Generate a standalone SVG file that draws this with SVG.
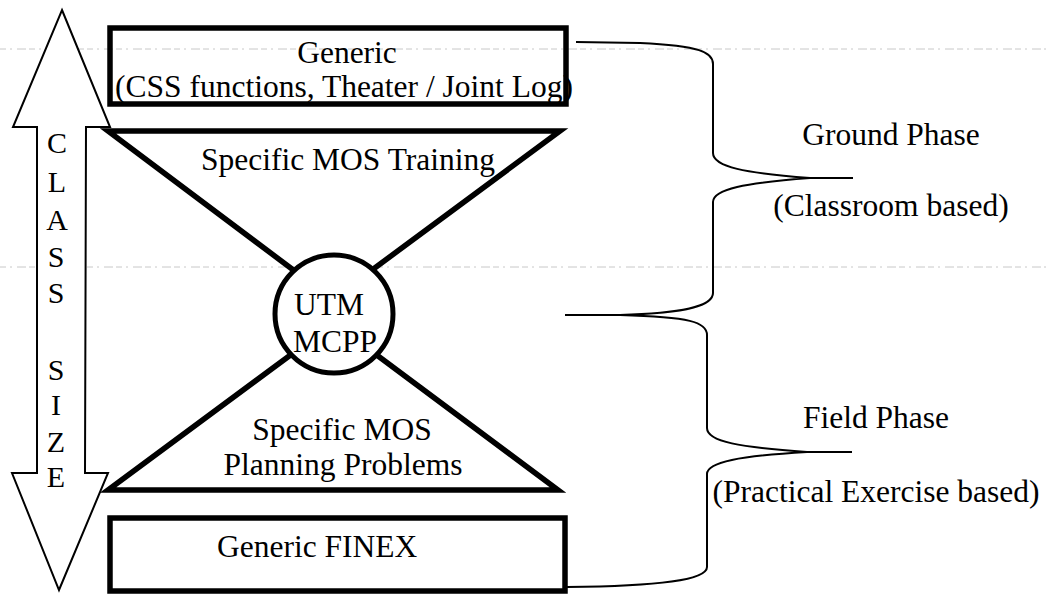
<svg xmlns="http://www.w3.org/2000/svg" width="1046" height="597" viewBox="0 0 1046 597">
  <style>
    .lbl { font-family: "Liberation Serif", "Times New Roman", serif; font-size: 31.5px; fill: #000; }
    .mid { text-anchor: middle; }
    .thick { fill: none; stroke: #000; stroke-width: 5.5; stroke-linejoin: miter; }
    .thin { fill: none; stroke: #000; stroke-width: 2; }
    .scan { stroke: #c8c8c8; stroke-width: 1; stroke-dasharray: 6 4 2 5 9 3; }
  </style>
  <rect width="1046" height="597" fill="#fff"/>

  <!-- faint horizontal scan lines -->
  <line class="scan" x1="0" y1="49" x2="1046" y2="49"/>
  <line class="scan" x1="0" y1="267" x2="1046" y2="267"/>

  <!-- vertical double arrow: CLASS SIZE -->
  <g id="class-size-arrow">
    <polygon points="62,10 110,127 86,127 85,473 108,473 59,590 12,473 37,473 37,127 13,127" fill="#fff" stroke="#000" stroke-width="2" stroke-linejoin="miter"/>
    <g class="lbl mid" style="font-size:30px">
      <text x="57" y="153">C</text>
      <text x="57" y="192">L</text>
      <text x="57" y="230">A</text>
      <text x="56" y="267">S</text>
      <text x="56" y="303">S</text>
      <text x="56" y="380">S</text>
      <text x="56" y="415">I</text>
      <text x="56" y="452">Z</text>
      <text x="56" y="487">E</text>
    </g>
  </g>

  <!-- top triangle: specific MOS training -->
  <g id="mos-training">
    <polyline class="thick" points="300,275 108,131 560,131 372,270"/>
    <text class="lbl mid" x="348" y="170">Specific MOS Training</text>
  </g>

  <!-- bottom triangle: specific MOS planning problems -->
  <g id="mos-planning">
    <polyline class="thick" points="300,348 108,490 558,490 370,350"/>
    <text class="lbl mid" x="342" y="440">Specific MOS</text>
    <text class="lbl mid" x="343" y="475">Planning Problems</text>
  </g>

  <!-- central circle -->
  <g id="utm-mcpp">
    <circle cx="334" cy="314" r="59" fill="#fff" stroke="#000" stroke-width="5"/>
    <text class="lbl" x="294" y="315">UTM</text>
    <text class="lbl" x="293" y="352">MCPP</text>
  </g>

  <!-- top generic box -->
  <g id="generic-top">
    <rect class="thick" x="110" y="28" width="456" height="76"/>
    <text class="lbl mid" x="347" y="63">Generic</text>
    <text class="lbl mid" x="344" y="97">(CSS functions, Theater / Joint Log)</text>
  </g>

  <!-- bottom generic box -->
  <g id="generic-finex">
    <rect class="thick" x="110" y="518" width="455" height="73"/>
    <text class="lbl" x="217" y="557">Generic FINEX</text>
  </g>

  <!-- phase braces -->
  <g id="connectors">
    <path class="thin" d="M576,42 L640,43 C700,46 713,52 713,64 L713,153 C713,167 745,173 810,178 L853,178 M810,178 C745,183 713,189 713,202 L713,293 C713,305 690,313 620,315 L565,315"/>
    <path class="thin" d="M565,315 L620,315 C690,317 707,322 707,335 L707,428 C707,442 740,447 807,452 L852,452 M807,452 C740,456 707,462 707,474 L707,567 C707,580 660,586 567,587"/>
  </g>

  <g id="ground-phase">
    <text class="lbl mid" x="891" y="145">Ground Phase</text>
    <text class="lbl mid" x="891" y="216">(Classroom based)</text>
  </g>

  <g id="field-phase">
    <text class="lbl mid" x="876" y="428">Field Phase</text>
    <text class="lbl mid" x="876" y="502">(Practical Exercise based)</text>
  </g>
</svg>
